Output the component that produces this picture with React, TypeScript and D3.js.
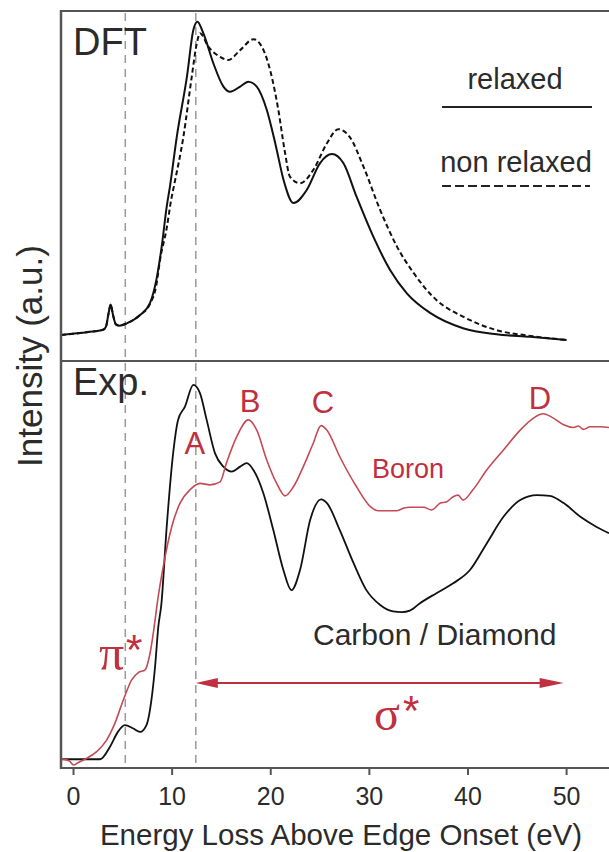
import React from "react";
import * as d3 from "d3";

// ---------- data (energy in eV, intensity in a.u.) ----------
const energyTicks = [0, 10, 20, 30, 40, 50];
const markerLines = [5.25, 12.4];

const dftRelaxed: [number, number][] = [
  [-1.27, 1.9], [1.5, 2.8], [3.0, 3.5], [3.3, 4.6], [3.55, 8.6], [3.77, 11.4], [4.0, 8.2], [4.3, 5.2],
  [4.65, 4.8], [5.4, 5.5], [6.74, 8.1], [7.76, 11.9], [8.4, 19.1], [8.94, 29.5], [9.45, 42.0],
  [9.8, 48.7], [10.47, 63.8], [11.5, 82.6], [12.15, 97.2], [12.56, 99.8], [13.16, 96.2],
  [14.18, 86.8], [15.2, 79.5], [15.87, 77.9], [16.9, 79.5], [17.73, 81.0], [18.58, 79.5],
  [19.6, 72.2], [20.5, 61.2], [21.3, 50.3], [22.3, 43.1], [23.65, 47.2], [25.0, 55.6],
  [26.2, 58.4], [27.36, 55.6], [28.7, 45.1], [30.4, 32.6], [32.1, 22.2], [33.8, 14.9],
  [36.2, 8.7], [39.5, 4.0], [42.9, 2.1], [46.3, 1.3], [50.0, 0.3],
];

const dftNonRelaxed: [number, number][] = [
  [-1.27, 1.9], [1.5, 2.8], [3.0, 3.5], [3.3, 4.6], [3.55, 8.6], [3.77, 11.4], [4.0, 8.2], [4.3, 5.2],
  [4.65, 4.8], [5.4, 5.5], [6.74, 8.1], [7.76, 11.6], [8.4, 17.5], [8.77, 25.3], [9.45, 35.3],
  [9.9, 44.1], [10.2, 48.7], [11.14, 63.8], [11.99, 82.6], [12.5, 93.0], [12.83, 96.2],
  [13.67, 92.0], [14.86, 88.8], [15.7, 87.8], [16.9, 90.9], [18.24, 94.3], [19.09, 92.0],
  [19.93, 84.7], [20.77, 72.2], [21.4, 59.7], [21.96, 51.3], [22.97, 49.3], [24.3, 53.4],
  [25.7, 61.8], [26.85, 66.2], [28.0, 63.8], [29.4, 54.5], [31.1, 40.9], [32.8, 29.5],
  [34.5, 21.2], [36.8, 12.8], [39.5, 7.6], [42.9, 3.4], [46.3, 1.6], [50.0, 0.3],
];

const expCarbon: [number, number][] = [
  [-1.27, 0.2], [2.7, 0.2], [3.7, 3.5], [4.5, 7.4], [5.2, 9.2], [6.06, 8.3], [6.74, 7.4],
  [7.4, 9.2], [7.9, 15.8], [8.27, 24.6], [8.6, 35.1], [8.9, 40.8], [9.45, 61.4], [10.1, 80.7],
  [10.6, 89.5], [11.3, 93.0], [12.15, 98.7], [12.83, 96.5], [13.5, 89.5], [14.35, 80.7],
  [15.2, 77.2], [16.04, 75.9], [16.9, 77.2], [17.57, 78.1], [18.24, 76.3], [19.25, 70.2],
  [20.26, 60.5], [21.28, 50.0], [22.1, 44.7], [22.97, 50.0], [24.0, 63.2], [25.1, 68.6],
  [25.7, 67.6], [27.0, 60.5], [28.4, 51.8], [29.7, 44.7], [31.1, 40.8], [32.4, 39.1],
  [33.3, 38.9], [34.1, 39.3], [35.1, 41.2], [36.8, 43.9], [38.5, 46.5], [40.2, 50.0], [41.9, 57.0],
  [43.6, 64.0], [45.3, 68.4], [47.0, 69.7], [48.3, 69.5], [49.7, 67.6], [51.4, 64.0],
  [53.0, 61.4], [54.3, 59.7],
];

const expBoron: [number, number][] = [
  [-1.27, 0.3], [-1.0, 0.2], [-0.4, -0.3], [0, -1.3], [0.4, -0.8], [1.0, 0], [2.35, 2.2],
  [3.37, 5.3], [4.2, 9.7], [5.05, 15.8], [5.9, 21.1], [6.57, 23.0], [7.25, 23.7], [7.76, 28.1],
  [8.27, 36.8], [8.44, 40.3], [9.1, 50.9], [9.96, 61.4], [10.8, 67.6], [11.8, 71.1],
  [12.83, 72.8], [13.84, 72.4], [14.86, 73.2], [15.5, 78.1], [16.55, 85.1], [17.73, 89.5],
  [18.58, 86.8], [19.6, 78.9], [20.6, 72.8], [21.45, 69.5], [22.3, 71.9], [23.3, 77.2],
  [24.3, 83.3], [25.1, 88.0], [25.7, 86.8], [27.0, 79.8], [28.7, 71.9], [30.1, 66.7],
  [30.9, 65.6], [32.8, 65.6], [33.5, 66.3], [34.1, 66.5], [35.5, 66.5], [36.3, 65.8],
  [37.2, 67.6], [37.8, 67.9], [38.5, 69.3], [39.0, 69.7], [39.5, 68.4], [40.5, 71.1],
  [41.9, 76.3], [43.6, 81.6], [45.3, 86.8], [46.6, 89.9], [47.6, 91.1], [48.7, 89.9],
  [49.7, 88.2], [50.7, 87.5], [51.2, 87.9], [51.7, 87.0], [52.4, 87.7], [53.4, 87.7],
  [54.3, 87.5],
];

const peakLabels: [string, number, number][] = [
  ["A", 12.3, 80.5],
  ["B", 17.9, 91.5],
  ["C", 25.3, 91.2],
  ["D", 47.3, 92.4],
];

const sigmaRange: [number, number] = [12.4, 49.7];

export default function App() {
  const W = 609;
  const H = 852;
  const left = 61;
  const top = 11;
  const mid = 361;
  const bottom = 768;

  const x = d3.scaleLinear().domain([-1.27, 54.3]).range([left, W]);
  const yTop = d3.scaleLinear().domain([-6.25, 103.125]).range([mid, top]);
  const yBot = d3.scaleLinear().domain([-2.105, 105]).range([bottom, mid]);

  const lineTop = d3
    .line<[number, number]>()
    .x((d) => x(d[0]))
    .y((d) => yTop(d[1]))
    .curve(d3.curveMonotoneX);
  const lineBot = d3
    .line<[number, number]>()
    .x((d) => x(d[0]))
    .y((d) => yBot(d[1]))
    .curve(d3.curveMonotoneX);

  const sans = "'Liberation Sans', Arial, Helvetica, sans-serif";
  const serif = "'Liberation Serif', 'Times New Roman', serif";
  const textCol = "#2b2b2b";
  const red = "#c0303e";
  const redLine = "#c44a55";
  const frame = "#555";

  const arrowY = 683;
  const ax0 = x(sigmaRange[0]);
  const ax1 = x(sigmaRange[1]);

  return (
    <svg
      width={W}
      height={H}
      style={{ position: "absolute", left: 0, top: 0, background: "#fff" }}
      xmlns="http://www.w3.org/2000/svg"
    >
      <defs>
        <clipPath id="plotClip">
          <rect x={left} y={top} width={W - left} height={bottom - top} />
        </clipPath>
      </defs>
      <rect x={0} y={0} width={W} height={H} fill="#fff" />

      {/* vertical dashed reference lines */}
      {markerLines.map((e) => (
        <line
          key={e}
          x1={x(e)}
          x2={x(e)}
          y1={top + 2}
          y2={bottom - 1}
          stroke="#999"
          strokeWidth={1.5}
          strokeDasharray="8,6"
        />
      ))}

      {/* curves */}
      <g clipPath="url(#plotClip)">
        <path d={lineTop(dftNonRelaxed) || ""} fill="none" stroke="#111" strokeWidth={2} strokeDasharray="5,3" />
        <path d={lineTop(dftRelaxed) || ""} fill="none" stroke="#111" strokeWidth={2} />
        <path d={lineBot(expCarbon) || ""} fill="none" stroke="#111" strokeWidth={1.8} />
        <path d={lineBot(expBoron) || ""} fill="none" stroke={redLine} strokeWidth={1.6} />
      </g>

      {/* frame */}
      <line x1={left} x2={W} y1={top} y2={top} stroke={frame} strokeWidth={2} />
      <line x1={left} x2={W} y1={mid} y2={mid} stroke={frame} strokeWidth={2} />
      <line x1={left} x2={W} y1={bottom} y2={bottom} stroke={frame} strokeWidth={2} />
      <line x1={left} x2={left} y1={top - 1} y2={bottom + 1} stroke={frame} strokeWidth={2.5} />

      {/* x ticks */}
      {energyTicks.map((t) => (
        <g key={t}>
          <line x1={x(t)} x2={x(t)} y1={bottom} y2={bottom + 7} stroke={frame} strokeWidth={2} />
          <text x={x(t)} y={805} textAnchor="middle" fontFamily={sans} fontSize={25} fill={textCol}>
            {t}
          </text>
        </g>
      ))}

      {/* axis labels */}
      <text x={341} y={845} textAnchor="middle" fontFamily={sans} fontSize={29.5} fill={textCol}>
        Energy Loss Above Edge Onset (eV)
      </text>
      <text
        transform={`translate(42, 356) rotate(-90)`}
        textAnchor="middle"
        fontFamily={sans}
        fontSize={35}
        fill={textCol}
      >
        Intensity (a.u.)
      </text>

      {/* panel titles */}
      <text x={73} y={55} fontFamily={sans} fontSize={38} fill={textCol}>DFT</text>
      <text x={73} y={395} fontFamily={sans} fontSize={38} fill={textCol}>Exp.</text>

      {/* legend */}
      <text x={515} y={89} textAnchor="middle" fontFamily={sans} fontSize={29} fill={textCol}>relaxed</text>
      <line x1={442} x2={592} y1={107} y2={107} stroke="#222" strokeWidth={2} />
      <text x={516} y={172} textAnchor="middle" fontFamily={sans} fontSize={29} fill={textCol}>non relaxed</text>
      <line x1={442} x2={590} y1={186} y2={186} stroke="#222" strokeWidth={2} strokeDasharray="9,4" />

      {/* peak labels */}
      {peakLabels.map(([s, e, v]) => (
        <text key={s} x={x(e)} y={yBot(v)} textAnchor="middle" fontFamily={sans} fontSize={31} fill={red}>
          {s}
        </text>
      ))}

      <text x={372} y={478} fontFamily={sans} fontSize={27} fill={red}>Boron</text>
      <text x={313} y={645} fontFamily={sans} fontSize={30} fill={textCol}>Carbon / Diamond</text>

      {/* pi* */}
      <text x={99} y={670} fontFamily={serif} fontSize={50} fill={red}>π</text>
      <text x={126} y={664} fontFamily={sans} fontSize={42} fill={red}>*</text>

      {/* sigma* arrow */}
      <line x1={ax0 + 10} x2={ax1 - 10} y1={arrowY} y2={arrowY} stroke={red} strokeWidth={2} />
      <path d={`M${ax0},${arrowY} L${ax0 + 22},${arrowY - 5} L${ax0 + 22},${arrowY + 5} Z`} fill={red} />
      <path d={`M${ax1},${arrowY} L${ax1 - 24},${arrowY - 5} L${ax1 - 24},${arrowY + 5} Z`} fill={red} />
      <text x={374} y={730} fontFamily={serif} fontSize={48} fill={red}>σ</text>
      <text x={403} y={725} fontFamily={sans} fontSize={42} fill={red}>*</text>
    </svg>
  );
}
